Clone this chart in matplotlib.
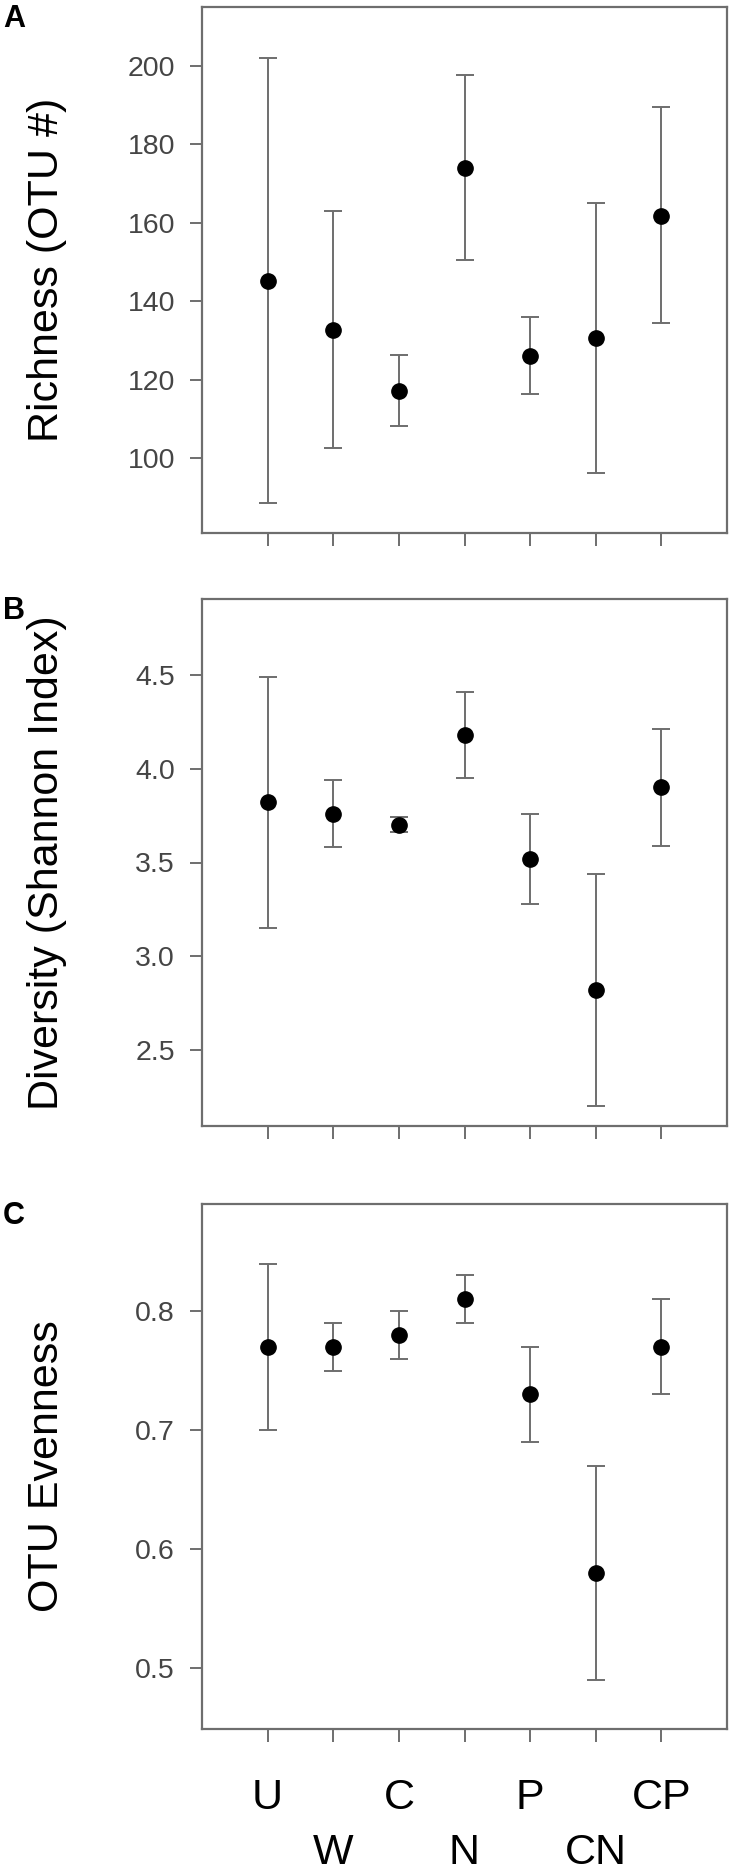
import matplotlib
matplotlib.use("Agg")
import matplotlib.pyplot as plt
import matplotlib.transforms as mtransforms

plt.rcParams['font.family'] = ['Liberation Sans', 'DejaVu Sans']

# treatments
groups = ['U', 'W', 'C', 'N', 'P', 'CN', 'CP']

# A: richness (mean, lower, upper)
rich_mean = [145.2, 132.8, 117.2, 173.9, 126.1, 130.6, 161.8]
rich_lo = [88.6, 102.6, 108.2, 150.5, 116.4, 96.2, 134.4]
rich_hi = [202.0, 163.0, 126.3, 197.6, 136.1, 165.0, 189.4]

# B: shannon diversity
div_mean = [3.82, 3.76, 3.70, 4.18, 3.52, 2.82, 3.90]
div_lo = [3.15, 3.58, 3.66, 3.95, 3.28, 2.20, 3.59]
div_hi = [4.49, 3.94, 3.74, 4.41, 3.76, 3.44, 4.21]

# C: evenness
even_mean = [0.77, 0.77, 0.78, 0.81, 0.73, 0.58, 0.77]
even_lo = [0.70, 0.75, 0.76, 0.79, 0.69, 0.49, 0.73]
even_hi = [0.84, 0.79, 0.80, 0.83, 0.77, 0.67, 0.81]

W, H = 735, 1871
fig = plt.figure(figsize=(W / 100, H / 100), dpi=100)

gray = '#6e6e6e'
panels = [
    ('A', 'Richness (OTU #)', rich_mean, rich_lo, rich_hi, (81.0, 215.0), [100, 120, 140, 160, 180, 200], '{:.0f}', 7, 533),
    ('B', 'Diversity (Shannon Index)', div_mean, div_lo, div_hi, (2.096, 4.904), [2.5, 3.0, 3.5, 4.0, 4.5], '{:.1f}', 599, 1126),
    ('C', 'OTU Evenness', even_mean, even_lo, even_hi, (0.449, 0.890), [0.5, 0.6, 0.7, 0.8], '{:.1f}', 1204, 1729),
]

x = list(range(1, len(groups) + 1))
left, right = 202, 727

for letter, ylab, m, lo, hi, ylim, yt, fmt, top, bot in panels:
    ax = fig.add_axes([left / W, 1 - bot / H, (right - left) / W, (bot - top) / H])
    err = [[mm - l for mm, l in zip(m, lo)], [h - mm for mm, h in zip(m, hi)]]
    ax.errorbar(x, m, yerr=err, fmt='none', ecolor=gray, elinewidth=1.4,
                capsize=6.5, capthick=1.4)
    ax.plot(x, m, 'o', color='black', markersize=11)
    ax.set_xlim(0, 8)
    ax.set_ylim(*ylim)
    ax.set_yticks(yt)
    ax.set_yticklabels([fmt.format(v) for v in yt])
    ax.set_xticks(x)
    ax.set_xticklabels([])
    for s in ax.spines.values():
        s.set_color(gray)
        s.set_linewidth(1.6)
    ax.tick_params(colors=gray, length=9, width=1.4, labelsize=20.5, pad=10.5)
    ax.tick_params(axis='y', labelcolor='#454545')
    ax.set_ylabel(ylab, fontsize=31, va='center')
    ax.yaxis.set_label_coords(-0.295, 0.5)
    fig.text(3 / W, 1 - (top + 12) / H, letter, fontsize=22, fontweight='bold',
             ha='left', va='center')

# two-row treatment labels under the last panel
trans = mtransforms.blended_transform_factory(ax.transData, ax.transAxes)
for i, g in enumerate(groups):
    yy = -0.131 if i % 2 == 0 else -0.236
    ax.text(x[i], yy, g, transform=trans, ha='center', va='center', fontsize=31)

fig.savefig('out.png', dpi=100, facecolor='white')
